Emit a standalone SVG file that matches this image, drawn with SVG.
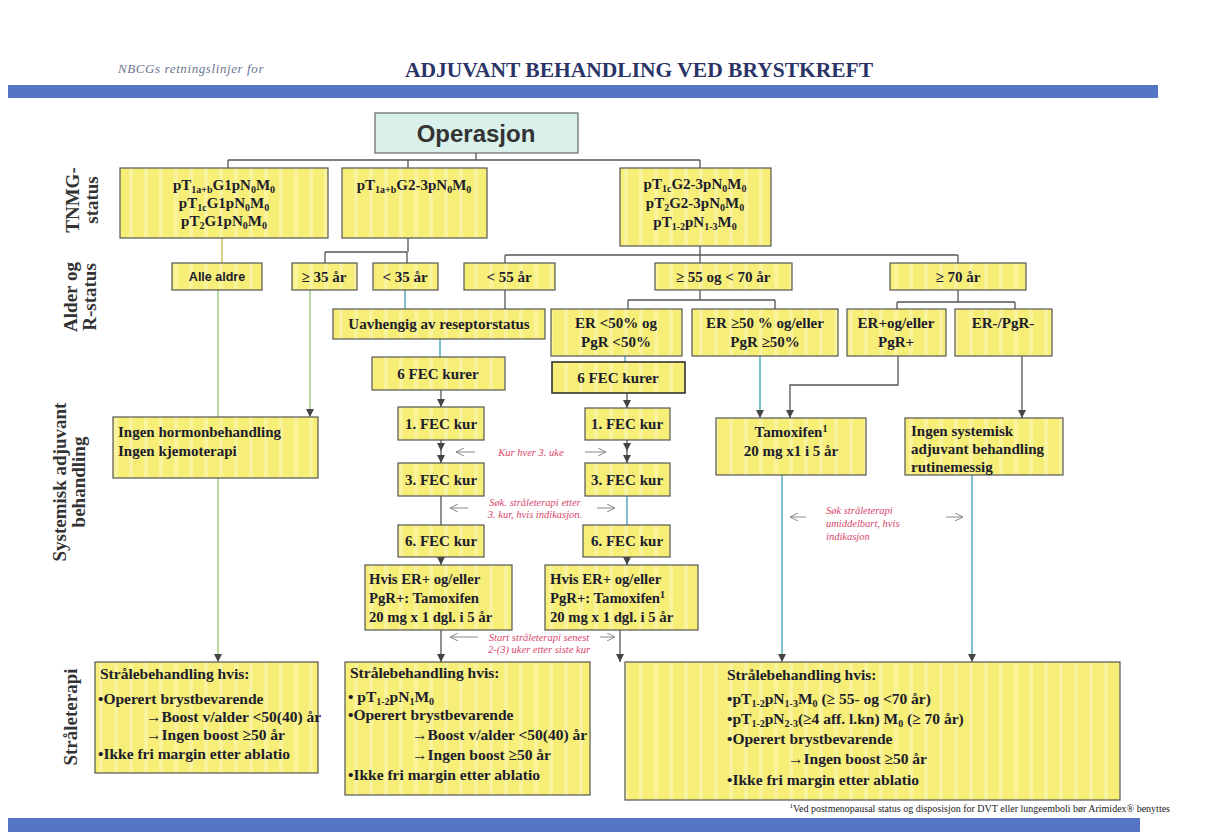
<svg xmlns="http://www.w3.org/2000/svg" width="1230" height="834" viewBox="0 0 1230 834">
<style>
.t{font-family:"Liberation Serif","Times New Roman",serif;font-weight:bold;font-size:15px;fill:#1c1c2c}
.b{font-size:15.5px}
.s{font-size:10px}
.lab{font-family:"Liberation Serif",serif;font-weight:bold;font-size:19px;fill:#333}
.red{font-family:"Liberation Serif",serif;font-style:italic;font-size:10.5px;fill:#d8466a}
.box{fill:url(#stripe);stroke:#555;stroke-width:1.2}
.c{fill:none;stroke:#555;stroke-width:1.3}
.cy{fill:none;stroke:#3a9fb8;stroke-width:1.3}
.gr{fill:none;stroke:#8ec86e;stroke-width:1.3}
.ol{fill:none;stroke:#c8b448;stroke-width:1.3}
.ann{fill:none;stroke:#888;stroke-width:1}
</style>
<defs>
<pattern id="stripe" width="15" height="10" patternUnits="userSpaceOnUse">
<rect width="15" height="10" fill="#f6ee76"/>
<rect x="9" width="4" height="10" fill="#f9f39e"/>
</pattern>
<marker id="ah" markerWidth="8" markerHeight="8" refX="8" refY="4" orient="auto" markerUnits="userSpaceOnUse">
<path d="M0,0 L8,4 L0,8 z" fill="#444"/>
</marker>
<marker id="oa" markerWidth="10" markerHeight="8" refX="10" refY="4" orient="auto" markerUnits="userSpaceOnUse">
<path d="M2,0 L10,4 L2,8" fill="none" stroke="#888" stroke-width="1"/>
</marker>
</defs>
<rect width="1230" height="834" fill="#ffffff"/>
<g id="header">
<text x="118" y="73" font-family="Liberation Serif, serif" font-style="italic" font-size="13" letter-spacing="0.6" fill="#6a7390">NBCGs retningslinjer  for</text>
<text x="639" y="77" text-anchor="middle" font-family="Liberation Serif, serif" font-weight="bold" font-size="21.5" fill="#2b3467">ADJUVANT BEHANDLING VED BRYSTKREFT</text>
<rect x="8" y="85" width="1150" height="13" fill="#5674c4"/>
<rect x="8" y="818" width="1132" height="14" fill="#5674c4"/>
</g>
<g id="side-labels">
<text class="lab" transform="translate(79,200) rotate(-90)" text-anchor="middle"><tspan x="0" y="0">TNMG-</tspan><tspan x="0" y="19">status</tspan></text>
<text class="lab" transform="translate(77,297) rotate(-90)" text-anchor="middle"><tspan x="0" y="0">Alder og</tspan><tspan x="0" y="19">R-status</tspan></text>
<text class="lab" transform="translate(66,482) rotate(-90)" text-anchor="middle"><tspan x="0" y="0">Systemisk adjuvant</tspan><tspan x="0" y="19">behandling</tspan></text>
<text class="lab" transform="translate(77,717) rotate(-90)" text-anchor="middle">Stråleterapi</text>
</g>
<g id="connectors">
<path class="c" d="M476,153 V160 M228,160 H700 M228,160 V168 M408,160 V168 M700,160 V168"/>
<path class="ol" d="M222,238 V263"/>
<path class="c" d="M408,238 V252 M325,252 H407 M325,252 V263 M407,252 V263"/>
<path class="c" d="M700,246 V255 M505,255 H958 M505,255 V263 M700,255 V263 M958,255 V263"/>
<path class="gr" d="M218,290 V417"/>
<path class="gr" d="M310,290 V417" marker-end="url(#ah)"/>
<path class="cy" d="M405,290 V309"/>
<path class="c" d="M505,290 V309"/>
<path class="c" d="M700,290 V300 M628,300 H775 M628,300 V309 M775,300 V309"/>
<path class="c" d="M958,290 V302 M897,302 H1015 M897,302 V309 M1015,302 V309"/>
<path class="cy" d="M440,339 V357"/>
<path class="cy" d="M625,356 V362"/>
<path class="cy" d="M760,356 V418" marker-end="url(#ah)"/>
<path class="c" d="M898,356 V385 H790 V418" marker-end="url(#ah)"/>
<path class="c" d="M1022,356 V418" marker-end="url(#ah)"/>
<path class="c" d="M441,390 V407" marker-end="url(#ah)"/>
<path class="c" d="M627,393 V408" marker-end="url(#ah)"/>
<path class="c" d="M441,440 V451" marker-end="url(#ah)"/>
<path class="c" d="M441,451 V463" marker-end="url(#ah)"/>
<path class="c" d="M627,440 V451" marker-end="url(#ah)"/>
<path class="c" d="M627,451 V463" marker-end="url(#ah)"/>
<path class="c" d="M441,496 V525"/>
<path class="cy" d="M627,496 V525"/>
<path class="c" d="M441,557 V565" marker-end="url(#ah)"/>
<path class="c" d="M627,557 V565" marker-end="url(#ah)"/>
<path class="c" d="M441,630 V662" marker-end="url(#ah)"/>
<path class="c" d="M620,630 V662" marker-end="url(#ah)"/>
<path class="gr" d="M218,478 V662" marker-end="url(#ah)"/>
<path class="cy" d="M782,475 V662" marker-end="url(#ah)"/>
<path class="cy" d="M972,475 V662" marker-end="url(#ah)"/>
<path class="ann" d="M475,452 H456" marker-end="url(#oa)"/>
<path class="ann" d="M585,452 H606" marker-end="url(#oa)"/>
<path class="ann" d="M468,508 H450" marker-end="url(#oa)"/>
<path class="ann" d="M597,508 H615" marker-end="url(#oa)"/>
<path class="ann" d="M478,637 H450" marker-end="url(#oa)"/>
<path class="ann" d="M600,637 H615" marker-end="url(#oa)"/>
<path class="ann" d="M806,517 H790" marker-end="url(#oa)"/>
<path class="ann" d="M946,517 H963" marker-end="url(#oa)"/>
</g>
<g id="annotations">
<text class="red" x="531" y="456" text-anchor="middle">Kur hver 3. uke</text>
<text class="red" text-anchor="middle"><tspan x="535" y="506">Søk. stråleterapi etter</tspan><tspan x="535" dy="12">3. kur, hvis indikasjon.</tspan></text>
<text class="red" text-anchor="middle"><tspan x="539" y="641">Start stråleterapi senest</tspan><tspan x="539" dy="12">2-(3) uker etter siste kur</tspan></text>
<text class="red"><tspan x="826" y="514">Søk  stråleterapi</tspan><tspan x="826" dy="13">umiddelbart, hvis</tspan><tspan x="826" dy="13">indikasjon</tspan></text>
</g>
<g id="n-operasjon">
<rect x="375" y="113" width="203" height="40" fill="#d9f1ea" stroke="#666" stroke-width="1.2"/>
<text x="476" y="142" text-anchor="middle" font-family="Liberation Sans, Arial, sans-serif" font-weight="bold" font-size="24" fill="#333">Operasjon</text>
</g>
<g id="n-tnm1">
<rect class="box" x="120" y="168" width="208" height="70"/>
<text class="t" text-anchor="middle"><tspan x="224" y="190">pT</tspan><tspan class="s" dy="3">1a+b</tspan><tspan dy="-3">G1pN</tspan><tspan class="s" dy="3">0</tspan><tspan dy="-3">M</tspan><tspan class="s" dy="3">0</tspan></text>
<text class="t" text-anchor="middle"><tspan x="224" y="208">pT</tspan><tspan class="s" dy="3">1c</tspan><tspan dy="-3">G1pN</tspan><tspan class="s" dy="3">0</tspan><tspan dy="-3">M</tspan><tspan class="s" dy="3">0</tspan></text>
<text class="t" text-anchor="middle"><tspan x="224" y="226">pT</tspan><tspan class="s" dy="3">2</tspan><tspan dy="-3">G1pN</tspan><tspan class="s" dy="3">0</tspan><tspan dy="-3">M</tspan><tspan class="s" dy="3">0</tspan></text>
</g>
<g id="n-tnm2">
<rect class="box" x="342" y="168" width="145" height="70"/>
<text class="t" text-anchor="middle"><tspan x="414" y="190">pT</tspan><tspan class="s" dy="3">1a+b</tspan><tspan dy="-3">G2-3pN</tspan><tspan class="s" dy="3">0</tspan><tspan dy="-3">M</tspan><tspan class="s" dy="3">0</tspan></text>
</g>
<g id="n-tnm3">
<rect class="box" x="620" y="168" width="151" height="78"/>
<text class="t" text-anchor="middle"><tspan x="695" y="189">pT</tspan><tspan class="s" dy="3">1c</tspan><tspan dy="-3">G2-3pN</tspan><tspan class="s" dy="3">0</tspan><tspan dy="-3">M</tspan><tspan class="s" dy="3">0</tspan></text>
<text class="t" text-anchor="middle"><tspan x="695" y="208">pT</tspan><tspan class="s" dy="3">2</tspan><tspan dy="-3">G2-3pN</tspan><tspan class="s" dy="3">0</tspan><tspan dy="-3">M</tspan><tspan class="s" dy="3">0</tspan></text>
<text class="t" text-anchor="middle"><tspan x="695" y="227">pT</tspan><tspan class="s" dy="3">1-2</tspan><tspan dy="-3">pN</tspan><tspan class="s" dy="3">1-3</tspan><tspan dy="-3">M</tspan><tspan class="s" dy="3">0</tspan></text>
</g>
<g id="n-alle">
<rect class="box" x="172" y="263" width="90" height="27"/>
<text x="217" y="281" text-anchor="middle" font-family="Liberation Sans, Arial, sans-serif" font-weight="bold" font-size="12.5" fill="#1c1c2c">Alle aldre</text>
</g>
<g id="n-ge35">
<rect class="box" x="292" y="263" width="65" height="27"/>
<text class="t" x="324" y="282" text-anchor="middle">≥ 35 år</text>
</g>
<g id="n-lt35">
<rect class="box" x="373" y="263" width="65" height="27"/>
<text class="t" x="405" y="282" text-anchor="middle">&lt; 35 år</text>
</g>
<g id="n-lt55">
<rect class="box" x="464" y="263" width="91" height="27"/>
<text class="t" x="509" y="282" text-anchor="middle">&lt; 55 år</text>
</g>
<g id="n-55-70">
<rect class="box" x="655" y="263" width="137" height="27"/>
<text class="t" x="723" y="282" text-anchor="middle">≥ 55 og &lt; 70 år</text>
</g>
<g id="n-ge70">
<rect class="box" x="890" y="263" width="136" height="27"/>
<text class="t" x="958" y="282" text-anchor="middle">≥ 70 år</text>
</g>
<g id="n-uavh">
<rect class="box" x="333" y="309" width="212" height="30"/>
<text class="t" x="439" y="329" text-anchor="middle">Uavhengig av reseptorstatus</text>
</g>
<g id="n-erlt50">
<rect class="box" x="551" y="309" width="131" height="47"/>
<text class="t" text-anchor="middle"><tspan x="616" y="328">ER &lt;50% og</tspan><tspan x="616" y="347">PgR &lt;50%</tspan></text>
</g>
<g id="n-erge50">
<rect class="box" x="692" y="309" width="146" height="47"/>
<text class="t" text-anchor="middle"><tspan x="765" y="328">ER ≥50 % og/eller</tspan><tspan x="765" y="347">PgR ≥50%</tspan></text>
</g>
<g id="n-erplus">
<rect class="box" x="847" y="309" width="99" height="47"/>
<text class="t" text-anchor="middle"><tspan x="896" y="328">ER+og/eller</tspan><tspan x="896" y="347">PgR+</tspan></text>
</g>
<g id="n-erminus">
<rect class="box" x="955" y="309" width="97" height="47"/>
<text class="t" x="1003" y="328" text-anchor="middle">ER-/PgR-</text>
</g>
<g id="n-6fec-a">
<rect class="box" x="372" y="357" width="133" height="33"/>
<text class="t" x="438" y="379" text-anchor="middle">6 FEC kurer</text>
</g>
<g id="n-6fec-b">
<rect class="box" x="552" y="362" width="133" height="31" style="stroke:#333;stroke-width:1.6"/>
<text class="t" x="618" y="383" text-anchor="middle">6 FEC kurer</text>
</g>
<g id="n-1fec-a">
<rect class="box" x="398" y="407" width="86" height="33"/>
<text class="t" x="441" y="429" text-anchor="middle">1. FEC kur</text>
</g>
<g id="n-1fec-b">
<rect class="box" x="585" y="408" width="85" height="32"/>
<text class="t" x="627" y="429" text-anchor="middle">1. FEC kur</text>
</g>
<g id="n-3fec-a">
<rect class="box" x="398" y="463" width="86" height="33"/>
<text class="t" x="441" y="485" text-anchor="middle">3. FEC kur</text>
</g>
<g id="n-3fec-b">
<rect class="box" x="585" y="463" width="85" height="33"/>
<text class="t" x="627" y="485" text-anchor="middle">3. FEC kur</text>
</g>
<g id="n-6fec-c">
<rect class="box" x="398" y="525" width="86" height="32"/>
<text class="t" x="441" y="546" text-anchor="middle">6. FEC kur</text>
</g>
<g id="n-6fec-d">
<rect class="box" x="583" y="525" width="87" height="32"/>
<text class="t" x="627" y="546" text-anchor="middle">6. FEC kur</text>
</g>
<g id="n-hvis-a">
<rect class="box" x="365" y="565" width="147" height="65"/>
<text class="t" style="font-size:14.7px"><tspan x="369" y="584">Hvis ER+ og/eller</tspan><tspan x="369" y="603">PgR+: Tamoxifen</tspan><tspan x="369" y="622">20 mg x 1 dgl. i 5 år</tspan></text>
</g>
<g id="n-hvis-b">
<rect class="box" x="545" y="565" width="153" height="65"/>
<text class="t" style="font-size:14.7px"><tspan x="550" y="584">Hvis ER+ og/eller</tspan><tspan x="550" y="603">PgR+: Tamoxifen</tspan><tspan class="s" dy="-5">1</tspan><tspan x="550" y="622">20 mg x 1 dgl. i 5 år</tspan></text>
</g>
<g id="n-ingen-hormon">
<rect class="box" x="113" y="417" width="205" height="61"/>
<text class="t"><tspan x="118" y="437">Ingen hormonbehandling</tspan><tspan x="118" y="456">Ingen kjemoterapi</tspan></text>
</g>
<g id="n-tamoxifen">
<rect class="box" x="716" y="418" width="150" height="57"/>
<text class="t" text-anchor="middle"><tspan x="791" y="437">Tamoxifen<tspan class="s" dy="-5">1</tspan></tspan><tspan x="791" y="456">20 mg x1 i 5 år</tspan></text>
</g>
<g id="n-ingen-syst">
<rect class="box" x="905" y="418" width="158" height="57"/>
<text class="t"><tspan x="911" y="436">Ingen systemisk</tspan><tspan x="911" y="454">adjuvant behandling</tspan><tspan x="911" y="472">rutinemessig</tspan></text>
</g>
<g id="n-stral-1">
<rect class="box" x="95" y="662" width="223" height="111"/>
<text class="t b"><tspan x="100" y="679">Strålebehandling hvis:</tspan><tspan x="98" y="704">•Operert brystbevarende</tspan><tspan x="146" y="722">→Boost v/alder &lt;50(40) år</tspan><tspan x="146" y="740">→Ingen boost ≥50 år</tspan><tspan x="98" y="759">•Ikke fri margin etter ablatio</tspan></text>
</g>
<g id="n-stral-2">
<rect class="box" x="345" y="662" width="245" height="133"/>
<text class="t b"><tspan x="350" y="678">Strålebehandling hvis:</tspan><tspan x="348" y="702">• pT</tspan><tspan class="s" dy="3">1-2</tspan><tspan dy="-3">pN</tspan><tspan class="s" dy="3">1</tspan><tspan dy="-3">M</tspan><tspan class="s" dy="3">0</tspan><tspan x="348" y="720">•Operert brystbevarende</tspan><tspan x="412" y="740">→Boost v/alder &lt;50(40) år</tspan><tspan x="412" y="760">→Ingen boost ≥50 år</tspan><tspan x="348" y="780">•Ikke fri margin etter ablatio</tspan></text>
</g>
<g id="n-stral-3">
<rect class="box" x="625" y="662" width="495" height="138"/>
<text class="t b"><tspan x="727" y="680">Strålebehandling hvis:</tspan><tspan x="727" y="704">•pT</tspan><tspan class="s" dy="3">1-2</tspan><tspan dy="-3">pN</tspan><tspan class="s" dy="3">1-3</tspan><tspan dy="-3">M</tspan><tspan class="s" dy="3">0</tspan><tspan dy="-3"> (≥ 55- og &lt;70 år)</tspan><tspan x="727" y="724">•pT</tspan><tspan class="s" dy="3">1-2</tspan><tspan dy="-3">pN</tspan><tspan class="s" dy="3">2-3</tspan><tspan dy="-3">(≥4 aff. l.kn) M</tspan><tspan class="s" dy="3">0</tspan><tspan dy="-3"> (≥ 70 år)</tspan><tspan x="727" y="744">•Operert brystbevarende</tspan><tspan x="788" y="764">→Ingen boost ≥50 år</tspan><tspan x="727" y="785">•Ikke fri margin etter ablatio</tspan></text>
</g>
<g id="footnote">
<text x="1170" y="812" text-anchor="end" font-family="Liberation Serif, serif" font-size="10" fill="#222"><tspan font-size="7" dy="-4">1</tspan><tspan dy="4">Ved postmenopausal status og disposisjon for DVT eller lungeemboli bør Arimidex® benyttes</tspan></text>
</g>
</svg>
